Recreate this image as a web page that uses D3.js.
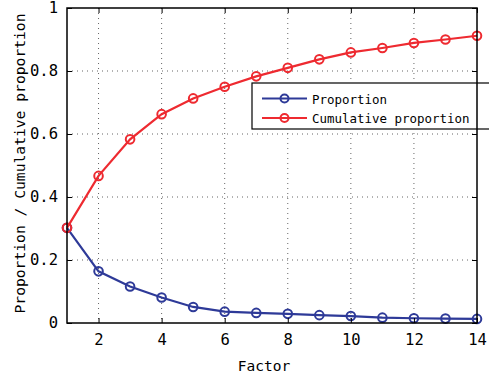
<!DOCTYPE html>
<html><head><meta charset="utf-8">
<script src="https://cdn.jsdelivr.net/npm/d3@7"></script>
<style>
html,body{margin:0;padding:0;background:#fff;}
svg{display:block;}
text{font-family:"DejaVu Sans Mono","Liberation Mono",monospace;fill:#000;}
</style></head>
<body>
<svg id="chart" width="489" height="380"></svg>
<script>
const factors = [1,2,3,4,5,6,7,8,9,10,11,12,13,14];
const proportion = [0.302,0.164,0.116,0.081,0.051,0.036,0.032,0.029,0.025,0.022,0.017,0.015,0.014,0.013];
const cumulative = [0.302,0.467,0.583,0.663,0.713,0.750,0.783,0.810,0.837,0.859,0.873,0.889,0.900,0.912];
const xTicks = [2,4,6,8,10,12,14];
const yTicks = [0,0.2,0.4,0.6,0.8,1];
const seriesNames = ["Proportion","Cumulative proportion"];
const seriesColors = ["#2e3a98","#ee2a30"];

const svg = d3.select("#chart");
const L=67, R=477, T=8, B=323;
const x = d3.scaleLinear().domain([1,14]).range([L,R]);
const y = d3.scaleLinear().domain([0,1]).range([B,T]);

// grid
const grid = svg.append("g");
grid.selectAll("line.gx").data(xTicks.filter(d=>d<14)).join("line")
  .attr("x1",d=>x(d)).attr("x2",d=>x(d)).attr("y1",T).attr("y2",B)
  .attr("stroke","#666").attr("stroke-width",1).attr("stroke-dasharray","1,4");
grid.selectAll("line.gy").data(yTicks.filter(d=>d>0&&d<1)).join("line")
  .attr("y1",d=>y(d)).attr("y2",d=>y(d)).attr("x1",L).attr("x2",R)
  .attr("stroke","#666").attr("stroke-width",1).attr("stroke-dasharray","1,4");

// series
const series = [proportion, cumulative];
series.forEach((vals,i)=>{
  const g = svg.append("g");
  const data = factors.map((f,j)=>[f,vals[j]]);
  g.append("path").datum(data)
    .attr("d", d3.line().x(d=>x(d[0])).y(d=>y(d[1])))
    .attr("fill","none").attr("stroke",seriesColors[i]).attr("stroke-width",2.2);
  g.selectAll("circle").data(data).join("circle")
    .attr("cx",d=>x(d[0])).attr("cy",d=>y(d[1])).attr("r",4.3)
    .attr("fill","none").attr("stroke",seriesColors[i]).attr("stroke-width",2);
});

// legend
const lg = svg.append("g");
lg.append("rect").attr("x",252).attr("y",83).attr("width",250).attr("height",46)
  .attr("fill","#fff").attr("stroke","#000").attr("stroke-width",1.2);
seriesNames.forEach((n,i)=>{
  const yy = 98.5 + i*19.5;
  lg.append("line").attr("x1",262).attr("x2",307).attr("y1",yy).attr("y2",yy)
    .attr("stroke",seriesColors[i]).attr("stroke-width",2.2);
  lg.append("circle").attr("cx",284.5).attr("cy",yy).attr("r",4)
    .attr("fill","none").attr("stroke",seriesColors[i]).attr("stroke-width",2);
  lg.append("text").attr("x",312).attr("y",yy+5).attr("font-size",13)
    .attr("textLength", n.length*7.5).attr("lengthAdjust","spacingAndGlyphs").text(n);
});

// axes box
svg.append("rect").attr("x",L).attr("y",T).attr("width",R-L).attr("height",B-T)
  .attr("fill","none").attr("stroke","#000").attr("stroke-width",1.5);

const xAxisB = d3.axisBottom(x).tickValues(xTicks).tickSizeInner(-5).tickSizeOuter(0).tickPadding(11).tickFormat(d3.format("d"));
const gxb = svg.append("g").attr("transform",`translate(0,${B})`).call(xAxisB);
const gxt = svg.append("g").attr("transform",`translate(0,${T})`).call(d3.axisTop(x).tickValues(xTicks).tickSizeInner(-5).tickSizeOuter(0).tickFormat(""));
const yAxisL = d3.axisLeft(y).tickValues(yTicks).tickSizeInner(-5).tickSizeOuter(0).tickPadding(9).tickFormat(d=>d===0||d===1?d3.format("d")(d):d3.format(".1f")(d));
const gyl = svg.append("g").attr("transform",`translate(${L},0)`).call(yAxisL);
const gyr = svg.append("g").attr("transform",`translate(${R},0)`).call(d3.axisRight(y).tickValues(yTicks).tickSizeInner(-5).tickSizeOuter(0).tickFormat(""));
[gxb,gxt,gyl,gyr].forEach(g=>{
  g.select(".domain").remove();
  g.selectAll(".tick line").attr("stroke","#000").attr("stroke-width",1);
  g.selectAll("text").attr("font-size",15.5).attr("font-family","DejaVu Sans Mono, monospace").attr("fill","#000");
});
gxb.selectAll("text").attr("dy","0.71em");

// axis labels
svg.append("text").attr("x",(L+R)/2 - 8).attr("y",371).attr("text-anchor","middle")
  .attr("font-size",14.5).text("Factor");
svg.append("text").attr("transform",`translate(25,${(T+B)/2 - 2}) rotate(-90)`)
  .attr("text-anchor","middle").attr("font-size",14.5)
  .attr("textLength",300).attr("lengthAdjust","spacingAndGlyphs")
  .text("Proportion / Cumulative proportion");
</script>
</body></html>
